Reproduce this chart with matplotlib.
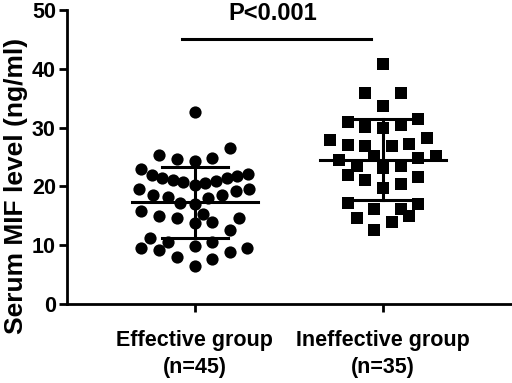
import numpy as np
import matplotlib
matplotlib.use("Agg")
import matplotlib.pyplot as plt

plt.rcParams['font.family'] = ['Liberation Sans', 'DejaVu Sans']
plt.rcParams['font.weight'] = 'bold'

categories = ["Effective group\n(n=45)", "Ineffective group\n(n=35)"]

effective = [32.7, 26.6, 25.3, 24.6, 24.4, 24.9,
             22.9, 21.9, 21.4, 21.1, 20.8, 20.2, 20.6, 21.0, 21.4, 21.8, 22.1,
             19.5, 18.5, 18.2, 17.1, 17.0, 18.0, 18.5, 19.3, 19.6,
             15.8, 15.0, 14.6, 13.8, 15.3, 14.0, 14.7, 12.6,
             11.3, 9.6, 9.2, 10.5, 9.9, 10.6, 8.8, 9.5, 8.0, 7.7, 6.5]
effective_dx = [0, 0.188, -0.188, -0.093, 0, 0.094,
                -0.287, -0.229, -0.176, -0.117, -0.061, 0, 0.056, 0.113, 0.170, 0.227, 0.285,
                -0.295, -0.223, -0.144, -0.078, 0, 0.072, 0.147, 0.218, 0.289,
                -0.286, -0.188, -0.096, 0, 0.046, 0.094, 0.237, 0.188,
                -0.238, -0.286, -0.188, -0.140, 0, 0.094, 0.188, 0.277, -0.096, 0.094, 0]

ineffective = [40.8, 35.8, 35.8, 33.7, 31.0, 31.4, 30.1, 29.9, 30.4,
               27.9, 27.0, 26.9, 26.9, 27.2, 28.3,
               25.1, 24.5, 23.4, 23.1, 23.5, 24.8, 25.2,
               21.9, 21.1, 20.4, 21.6, 19.7,
               17.2, 16.1, 16.1, 17.0, 15.0, 14.7, 14.0, 12.6]
ineffective_dx = [0, -0.094, 0.096, 0, -0.186, 0.189, -0.094, 0, 0.096,
                  -0.280, -0.186, -0.094, 0.048, 0.141, 0.234,
                  -0.046, -0.232, -0.138, 0.003, 0.096, 0.189, 0.282,
                  -0.186, -0.094, 0.096, 0.189, 0,
                  -0.186, -0.046, 0.096, 0.189, 0.141, -0.138, 0.048, -0.046]

p_text = "P<0.001"
sig_level = 45.0

fig = plt.figure(figsize=(5.12, 3.83), dpi=100)
ax = fig.add_axes([67/512, 1 - 304/383, (511-67)/512, (304-10)/383])

groups = [(effective, effective_dx, 'o'), (ineffective, ineffective_dx, 's')]
for i, (vals, dx, mk) in enumerate(groups):
    vals = np.array(vals)
    xs = i + np.array(dx)
    ax.plot(xs, vals, linestyle='none', marker=mk, markersize=8.8,
            color='black', markeredgewidth=0, zorder=3)
    m = vals.mean()
    sd = vals.std(ddof=1)
    ax.plot([i - 0.335, i + 0.335], [m, m], color='black', lw=2.2, zorder=4)
    ax.plot([i, i], [m - sd, m + sd], color='black', lw=2.2, zorder=4)
    for y in (m - sd, m + sd):
        ax.plot([i - 0.175, i + 0.175], [y, y], color='black', lw=2.2, zorder=4)

ax.plot([-0.069, 0.936], [sig_level, sig_level], color='black', lw=2.2, clip_on=False)
ax.text(0.413, 49.4, p_text, ha='center', va='center', fontsize=17,
        fontweight='bold', clip_on=False)

ax.set_xlim(-0.679, 1.682)
ax.set_ylim(0, 50)
ax.set_yticks([0, 10, 20, 30, 40, 50])
ax.set_xticks([0, 1])
ax.set_xticklabels(categories, fontsize=15.5, fontweight='bold', linespacing=1.35)
ax.tick_params(axis='y', labelsize=15.5, width=2, length=6, pad=2)
ax.tick_params(axis='x', width=2, length=6, pad=13)
ax.set_ylabel("Serum MIF level (ng/ml)", fontsize=19, fontweight='bold')
ax.yaxis.set_label_coords(-0.088, 0.40)
for s in ['top', 'right']:
    ax.spines[s].set_visible(False)
for s in ['left', 'bottom']:
    ax.spines[s].set_linewidth(2)

fig.savefig("out.png", dpi=100)
